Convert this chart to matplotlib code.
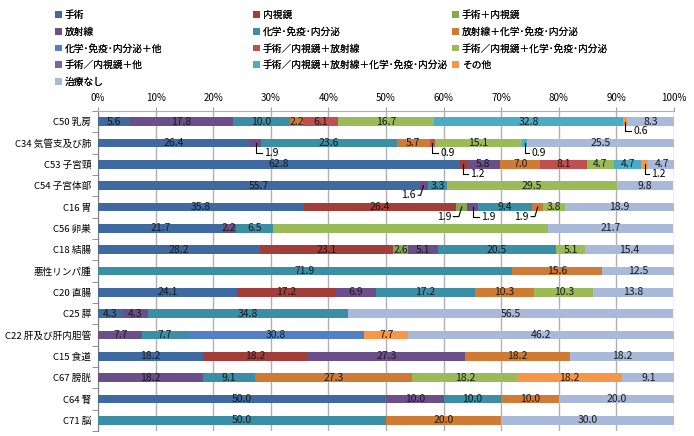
import numpy as np
import matplotlib
matplotlib.use("Agg")
import matplotlib.pyplot as plt

plt.rcParams['font.family'] = ['Noto Sans CJK JP', 'DejaVu Sans']

categories = ["C50 乳房", "C34 気管支及び肺", "C53 子宮頸", "C54 子宮体部", "C16 胃",
              "C56 卵巣", "C18 結腸", "悪性リンパ腫", "C20 直腸", "C25 膵",
              "C22 肝及び肝内胆管", "C15 食道", "C67 膀胱", "C64 腎", "C71 脳"]

series_names = ["手術", "内視鏡", "手術＋内視鏡",
                "放射線", "化学･免疫･内分泌", "放射線＋化学･免疫･内分泌",
                "化学･免疫･内分泌＋他", "手術／内視鏡＋放射線", "手術／内視鏡＋化学･免疫･内分泌",
                "手術／内視鏡＋他", "手術／内視鏡＋放射線＋化学･免疫･内分泌", "その他",
                "治療なし"]

# percentages per category, one list per series
shujutsu      = [5.6, 26.4, 62.8, 55.7, 35.8, 21.7, 28.2, 0, 24.1, 4.3, 0, 18.2, 0, 50.0, 0]
naishikyo     = [0, 0, 1.2, 0, 26.4, 0, 23.1, 0, 17.2, 0, 0, 18.2, 0, 0, 0]
shu_nai       = [0, 0, 0, 0, 1.9, 0, 2.6, 0, 0, 0, 0, 0, 0, 0, 0]
hoshasen      = [17.8, 1.9, 5.8, 1.6, 1.9, 2.2, 5.1, 0, 6.9, 4.3, 7.7, 27.3, 18.2, 10.0, 0]
kagaku        = [10.0, 23.6, 0, 3.3, 9.4, 6.5, 20.5, 71.9, 17.2, 34.8, 7.7, 0, 9.1, 10.0, 50.0]
hosha_kagaku  = [2.2, 5.7, 7.0, 0, 1.9, 0, 0, 15.6, 10.3, 0, 0, 18.2, 27.3, 10.0, 20.0]
kagaku_ta     = [0, 0, 0, 0, 0, 0, 0, 0, 0, 0, 30.8, 0, 0, 0, 0]
sn_hosha      = [6.1, 0.9, 8.1, 0, 0, 0, 0, 0, 0, 0, 0, 0, 0, 0, 0]
sn_kagaku     = [16.7, 15.1, 4.7, 29.5, 3.8, 47.8, 5.1, 0, 10.3, 0, 0, 0, 18.2, 0, 0]
sn_ta         = [0, 0, 0, 0, 0, 0, 0, 0, 0, 0, 0, 0, 0, 0, 0]
sn_hosha_kag  = [32.8, 0.9, 4.7, 0, 0, 0, 0, 0, 0, 0, 0, 0, 0, 0, 0]
sonota        = [0.6, 0, 1.2, 0, 0, 0, 0, 0, 0, 0, 7.7, 0, 18.2, 0, 0]
chiryo_nashi  = [8.3, 25.5, 4.7, 9.8, 18.9, 21.7, 15.4, 12.5, 13.8, 56.5, 46.2, 18.2, 9.1, 20.0, 30.0]

data = [shujutsu, naishikyo, shu_nai, hoshasen, kagaku, hosha_kagaku, kagaku_ta,
        sn_hosha, sn_kagaku, sn_ta, sn_hosha_kag, sonota, chiryo_nashi]

colors = ["#3E6AA1", "#A23D3A", "#86A94B", "#6A4F8B", "#3A8FA7", "#D07B35",
          "#4F82C4", "#C0504D", "#9BBB59", "#8064A2", "#4BACC6", "#F79646", "#A9B9D9"]

# small segments labelled with a leader line: (category, series) -> (text x, side)
callouts = {(0, 11): (93.0, 'r'), (1, 3): (28.8, 'r'), (1, 7): (59.5, 'r'),
            (1, 10): (75.3, 'r'), (2, 1): (64.6, 'r'), (2, 11): (96.0, 'r'),
            (3, 3): (55.2, 'l'), (4, 2): (61.3, 'l'), (4, 3): (66.5, 'r'),
            (4, 5): (74.8, 'l')}
hidden = {(5, 8)}

fig = plt.figure(figsize=(6.94, 4.36), dpi=100)
ax = fig.add_axes([98 / 694, 1 - 431 / 436, 576 / 694, 320 / 436])

y = np.arange(len(categories))
left = np.zeros(len(categories))
bh = 0.42
bars = []
for s, vals in enumerate(data):
    vals = np.array(vals, dtype=float)
    b = ax.barh(y, vals, left=left, height=bh, color=colors[s], label=series_names[s], zorder=3)
    bars.append(b)
    for i, v in enumerate(vals):
        if v <= 0 or (i, s) in hidden:
            continue
        cx = left[i] + v / 2
        if (i, s) in callouts:
            tx, side = callouts[(i, s)]
            ly = i + 0.45
            if side == 'r':
                ax.plot([cx, cx, tx - 0.4], [i, ly, ly], color="black", lw=0.8, zorder=4)
                ax.text(tx, ly, f"{v:.1f}", ha='left', va='center', fontsize=7.5, zorder=5)
            else:
                ax.plot([cx, cx - 0.5, tx + 0.4], [i, ly, ly], color="black", lw=0.8, zorder=4)
                ax.text(tx, ly, f"{v:.1f}", ha='right', va='center', fontsize=7.5, zorder=5)
        else:
            ax.text(cx, i, f"{v:.1f}", ha='center', va='center', fontsize=7.5, color="#1a1a1a", zorder=5)
    left += vals

ax.set_xlim(0, 100)
ax.set_ylim(len(categories) - 0.5, -0.5)
ax.set_yticks(y)
ax.set_yticklabels(categories, fontsize=6.9)
ax.set_yticks(np.arange(-0.5, len(categories), 1), minor=True)
ax.tick_params(axis='y', which='major', length=0, pad=5)
ax.tick_params(axis='y', which='minor', length=4, color="#7f7f7f", direction='out')
ax.xaxis.tick_top()
ax.set_xticks(np.arange(0, 101, 10))
ax.set_xticklabels([f"{t}%" for t in range(0, 101, 10)], fontsize=7)
ax.tick_params(axis='x', length=3, color="#a0a0a0", pad=3)
ax.grid(axis='x', color="#b0b0b0", lw=1, zorder=0)
for side in ['right', 'bottom']:
    ax.spines[side].set_visible(False)
ax.spines['top'].set_color("#b0b0b0")
ax.spines['left'].set_color("#7f7f7f")

# legend laid out row by row like the original: one legend per column
col_x = [50, 248, 447]
for c in range(3):
    idx = list(range(c, len(series_names), 3))
    leg = fig.legend([bars[k] for k in idx], [series_names[k] for k in idx], ncol=1,
                     loc='upper left', bbox_to_anchor=(col_x[c] / 694, 1 - 5 / 436),
                     frameon=False, fontsize=7.0, handlelength=0.7, handleheight=0.7,
                     handletextpad=0.3, labelspacing=0.7, borderpad=0)
    fig.add_artist(leg)

fig.savefig("out.png", dpi=100)
